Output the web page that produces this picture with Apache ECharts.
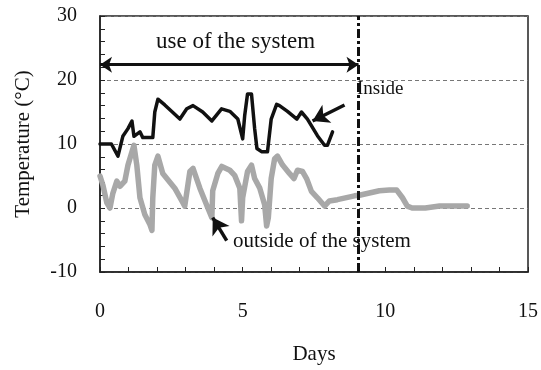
<!DOCTYPE html>
<html>
<head>
<meta charset="utf-8">
<script src="https://cdn.jsdelivr.net/npm/echarts@6/dist/echarts.min.js"></script>
<style>html,body{margin:0;padding:0;background:#fff}#c{width:541px;height:370px}</style>
</head>
<body>
<div id="c"></div>
<script>
// Inside temperature (day, °C)
var insideDays = [0, 0.4, 0.63, 0.8, 0.98, 1.12, 1.19, 1.4, 1.5, 1.85, 1.92, 2.03, 2.27, 2.8, 3.04, 3.26, 3.6, 3.92, 4.26, 4.55, 4.83, 5.0, 5.07, 5.17, 5.31, 5.42, 5.5, 5.66, 5.87, 6.0, 6.19, 6.29, 6.57, 6.9, 7.06, 7.27, 7.62, 7.87, 7.97, 8.15];
var insideTemp = [10, 10, 8.1, 11.2, 12.4, 13.6, 11.2, 11.9, 11, 11, 15, 17, 16.1, 13.9, 15.5, 16, 15, 13.6, 15.5, 15.1, 13.9, 10.8, 14.4, 17.8, 17.8, 12.4, 9.3, 8.8, 8.8, 13.9, 16.2, 16, 15.1, 13.9, 15, 13.9, 11.3, 9.8, 9.8, 11.9];
// Outside temperature (day, °C)
var outsideDays = [0, 0.1, 0.24, 0.35, 0.45, 0.59, 0.7, 0.87, 0.98, 1.12, 1.19, 1.29, 1.4, 1.57, 1.75, 1.82, 1.85, 1.92, 2.03, 2.2, 2.62, 2.87, 2.97, 3.15, 3.26, 3.5, 3.78, 3.92, 3.95, 4.13, 4.27, 4.55, 4.72, 4.9, 4.96, 5.0, 5.17, 5.31, 5.42, 5.6, 5.77, 5.84, 5.9, 6.0, 6.12, 6.22, 6.4, 6.64, 6.8, 6.92, 7.1, 7.24, 7.41, 7.62, 7.87, 8.04, 8.32, 8.92, 9.09, 9.79, 10.14, 10.4, 10.6, 10.77, 10.94, 11.4, 11.9, 12.87];
var outsideTemp = [5, 3.6, 0.8, 0, 2.3, 4.2, 3.4, 4.2, 6.7, 8.8, 9.8, 6.7, 1.6, -1.0, -2.6, -3.5, 1.6, 6.7, 8.1, 5.4, 3.1, 1.1, 0.3, 5.7, 6.2, 3.1, 0, -1.5, 2.7, 5.4, 6.5, 5.9, 5.1, 3.1, -2, 1.6, 5.7, 6.7, 4.6, 3.1, 0.5, -2.8, -1.5, 4.6, 7.7, 8.1, 6.7, 5.4, 4.6, 5.9, 5.7, 4.6, 2.6, 1.6, 0.3, 1.1, 1.3, 1.9, 2.0, 2.7, 2.8, 2.8, 1.6, 0.3, 0, 0, 0.3, 0.3];
// Annotations
var systemEndDay = 9.06;
var usePeriod = [[0, 22.4], [9.06, 22.4]];
var insideArrow = [[8.57, 16.1], [7.45, 13.6]];
var outsideArrow = [[4.44, -5.1], [3.95, -1.5]];
var xTicks = {min: 0, max: 15, interval: 5};
var yTicks = {min: -10, max: 30, interval: 10};

function zip(a, b) { return a.map(function (v, i) { return [v, b[i]]; }); }

var serif = 'Liberation Serif';
var chart = echarts.init(document.getElementById('c'), null, {renderer: 'canvas'});
chart.setOption({
  animation: false,
  backgroundColor: '#fff',
  grid: {left: 100, right: 12, top: 16, bottom: 95, show: true, borderColor: '#222', borderWidth: 1.5, backgroundColor: 'transparent'},
  xAxis: {
    type: 'value', min: xTicks.min, max: xTicks.max, interval: xTicks.interval,
    name: 'Days', nameLocation: 'middle', nameGap: 72,
    nameTextStyle: {fontFamily: serif, fontSize: 21, color: '#111'},
    axisLine: {onZero: false, lineStyle: {color: '#222', width: 1.5}},
    axisTick: {inside: true, length: 5, lineStyle: {color: '#222', width: 1}},
    minorTick: {show: true, splitNumber: 5, length: 5, lineStyle: {color: '#222', width: 1}},
    splitLine: {show: false},
    axisLabel: {margin: 30, fontFamily: serif, fontSize: 20, color: '#111'}
  },
  yAxis: {
    type: 'value', min: yTicks.min, max: yTicks.max, interval: yTicks.interval,
    name: 'Temperature (°C)', nameLocation: 'middle', nameGap: 66,
    nameTextStyle: {fontFamily: serif, fontSize: 21, color: '#111'},
    axisLine: {onZero: false, lineStyle: {color: '#222', width: 1.5}},
    axisTick: {inside: true, length: 5, lineStyle: {color: '#222', width: 1}},
    minorTick: {show: true, splitNumber: 5, length: 5, lineStyle: {color: '#222', width: 1}},
    splitLine: {show: true, lineStyle: {color: '#777', width: 1, type: [4, 3]}},
    axisLabel: {margin: 23, fontFamily: serif, fontSize: 20, color: '#111'}
  },
  series: [
    {
      type: 'line', name: 'outside', data: zip(outsideDays, outsideTemp),
      showSymbol: false, symbol: 'none', smooth: false,
      lineStyle: {color: '#a8a8a8', width: 5.5, join: 'round', cap: 'round'},
      markLine: {
        silent: true, animation: false, symbol: ['none', 'arrow'], symbolSize: [15, 16],
        label: {show: false},
        lineStyle: {color: '#111', width: 3.5, type: 'solid'},
        data: [[{coord: outsideArrow[0]}, {coord: outsideArrow[1]}]]
      }
    },
    {
      type: 'line', name: 'inside', data: zip(insideDays, insideTemp),
      showSymbol: false, symbol: 'none', smooth: false,
      lineStyle: {color: '#111', width: 3.5, join: 'round', cap: 'round'},
      markLine: {
        silent: true, animation: false, symbol: ['none', 'arrow'], symbolSize: [15, 16],
        label: {show: false},
        lineStyle: {color: '#111', width: 3.5, type: 'solid'},
        data: [
          [{coord: insideArrow[0]}, {coord: insideArrow[1]}],
          [{coord: usePeriod[0], symbol: 'arrow', symbolSize: [12, 12], lineStyle: {width: 3}},
           {coord: usePeriod[1], symbol: 'arrow', symbolSize: [12, 12]}],
          [{coord: [systemEndDay, yTicks.min], symbol: 'none', lineStyle: {type: [9, 3, 3, 3], width: 3}},
           {coord: [systemEndDay, yTicks.max], symbol: 'none'}]
        ]
      }
    }
  ],
  graphic: [
    {type: 'text', left: 156, top: 30, style: {text: 'use of the system', font: '23px "Liberation Serif"', fill: '#111'}},
    {type: 'text', left: 357, top: 80, style: {text: 'Inside', font: '19px "Liberation Serif"', fill: '#111'}},
    {type: 'text', left: 233, top: 231, style: {text: 'outside of the system', font: '21px "Liberation Serif"', fill: '#111'}}
  ]
});
</script>
</body>
</html>
